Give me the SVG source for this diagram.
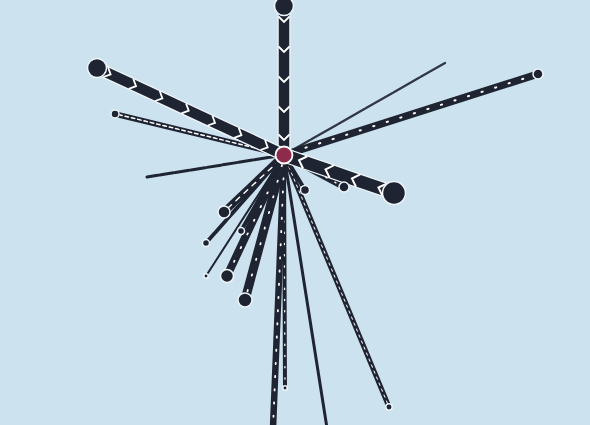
<svg xmlns="http://www.w3.org/2000/svg" width="590" height="425" viewBox="0 0 590 425">
<defs>
<marker id="chev" markerUnits="userSpaceOnUse" markerWidth="16" markerHeight="16" viewBox="-8 -8 16 16" refX="0" refY="0" orient="auto">
<path d="M-3.5,-5.5 L2,0 L-3.5,5.5" fill="none" stroke="#ffffff" stroke-width="1.8"/>
</marker>
<marker id="chevL" markerUnits="userSpaceOnUse" markerWidth="20" markerHeight="20" viewBox="-10 -10 20 20" refX="0" refY="0" orient="auto">
<path d="M-4,-6.5 L2.5,0 L-4,6.5" fill="none" stroke="#ffffff" stroke-width="2"/>
</marker>
</defs>
<style>
.halo{stroke:#eef5fa;fill:none;stroke-linecap:round}
.ln{stroke:#1f2433;fill:none;stroke-linecap:round}
.dot{stroke:#ffffff;fill:none;stroke-linecap:round}
.nd{fill:#1f2433;stroke:#eef5fa;stroke-width:1.5}
.ctr{fill:#8e2a4c;stroke:#ffffff;stroke-width:1.8}
</style>
<rect width="590" height="425" fill="#cde2ef"/>
<g id="connectors">
<line class="ln" x1="284" y1="155" x2="445" y2="63" stroke-width="2.3" stroke-dasharray="30 1.5" stroke-opacity="0.9"/>
<line class="ln" x1="284" y1="155" x2="147" y2="177" stroke-width="3" stroke-dasharray="14 2"/>
<line class="ln" x1="284" y1="155" x2="327" y2="428" stroke-width="3"/>
<line class="ln" x1="284" y1="155" x2="206" y2="276" stroke-width="2"/>
<line class="ln" x1="284" y1="155" x2="206" y2="243" stroke-width="3.8" stroke-dasharray="16 1.5"/>
<line class="ln" x1="284" y1="155" x2="389" y2="407" stroke-width="5"/>
<line class="dot" x1="284" y1="155" x2="389" y2="407" stroke-width="1" stroke-dasharray="2.5 4"/>
<line class="ln" x1="284" y1="155" x2="285" y2="388" stroke-width="4"/>
<line class="dot" x1="284" y1="165" x2="285" y2="385" stroke-width="1.3" stroke-dasharray="1.2 10"/>
<line class="ln" x1="284" y1="155" x2="305" y2="190" stroke-width="4"/>
<line class="ln" x1="284" y1="155" x2="241" y2="231" stroke-width="4"/>
<line class="ln" x1="284" y1="155" x2="115" y2="114" stroke-width="5.5"/>
<line class="dot" x1="280" y1="154" x2="120" y2="115" stroke-width="1.5" stroke-dasharray="3.5 3"/>
<line class="ln" x1="284" y1="155" x2="273" y2="428" stroke-width="6.5"/>
<line class="dot" x1="284" y1="165" x2="273" y2="428" stroke-width="1.8" stroke-dasharray="1.2 12"/>
<line class="ln" x1="284" y1="155" x2="224" y2="212" stroke-width="7.5"/>
<line class="dot" x1="280" y1="160" x2="228" y2="208" stroke-width="1.4" stroke-dasharray="5 6"/>
<line class="ln" x1="284" y1="155" x2="227" y2="276" stroke-width="8"/>
<line class="dot" x1="281" y1="165" x2="230" y2="270" stroke-width="1.8" stroke-dasharray="1.2 14"/>
<line class="ln" x1="284" y1="155" x2="245" y2="300" stroke-width="9"/>
<line class="dot" x1="282" y1="165" x2="247" y2="293" stroke-width="1.8" stroke-dasharray="1.2 15"/>
<line class="ln" x1="284" y1="155" x2="538" y2="74" stroke-width="7.5"/>
<line class="dot" x1="292" y1="152" x2="532" y2="76" stroke-width="2" stroke-dasharray="1.2 13"/>
<line class="ln" x1="284" y1="155" x2="344" y2="187" stroke-width="6.5"/>
<line class="dot" x1="290" y1="158" x2="340" y2="185" stroke-width="1.4" stroke-dasharray="1.2 9"/>
<line class="halo" x1="284" y1="6" x2="284" y2="155" stroke-width="13"/>
<path class="ln" d="M284,6 L284,20 L284,50 L284,80 L284,110 L284,138 L284,155" stroke-width="10.5" marker-mid="url(#chev)"/>
<line class="halo" x1="97" y1="68" x2="284" y2="155" stroke-width="13"/>
<path class="ln" d="M97,68 L108.8,73.5 L134.2,85.3 L160.6,97.5 L186.9,109.8 L213.2,122 L239.6,134.3 L265.9,146.5 L284,155" stroke-width="10.5" marker-mid="url(#chev)"/>
<line class="halo" x1="394" y1="193" x2="284" y2="155" stroke-width="15"/>
<path class="ln" d="M394,193 L380.8,188.4 L354.3,179.3 L327.9,170.2 L301.4,161.1 L284,155" stroke-width="12.5" marker-mid="url(#chevL)"/>
</g>
<g id="nodes">
<circle id="n-top" class="nd" cx="284" cy="6" r="9.5"/>
<circle id="n-ul" class="nd" cx="97" cy="68" r="9.5"/>
<circle id="n-l" class="nd" cx="115" cy="114" r="4"/>
<circle id="n-r" class="nd" cx="538" cy="74" r="5"/>
<circle id="n-lr" class="nd" cx="394" cy="193" r="11.5"/>
<circle id="n-lr2" class="nd" cx="344" cy="187" r="5"/>
<circle id="n-lr3" class="nd" cx="305" cy="190" r="4.5"/>
<circle id="n-dl1" class="nd" cx="224" cy="212" r="6"/>
<circle id="n-dl2" class="nd" cx="206" cy="243" r="3.5"/>
<circle id="n-dl3" class="nd" cx="241" cy="231" r="3.5"/>
<circle id="n-dl4" class="nd" cx="206" cy="276" r="2.2"/>
<circle id="n-dl5" class="nd" cx="227" cy="276" r="6.5"/>
<circle id="n-dl6" class="nd" cx="245" cy="300" r="7"/>
<circle id="n-d1" class="nd" cx="285" cy="388" r="2.2"/>
<circle id="n-d2" class="nd" cx="389" cy="407" r="3.2"/>
<circle id="center" class="ctr" cx="284" cy="155" r="8.5"/>
</g>
</svg>
